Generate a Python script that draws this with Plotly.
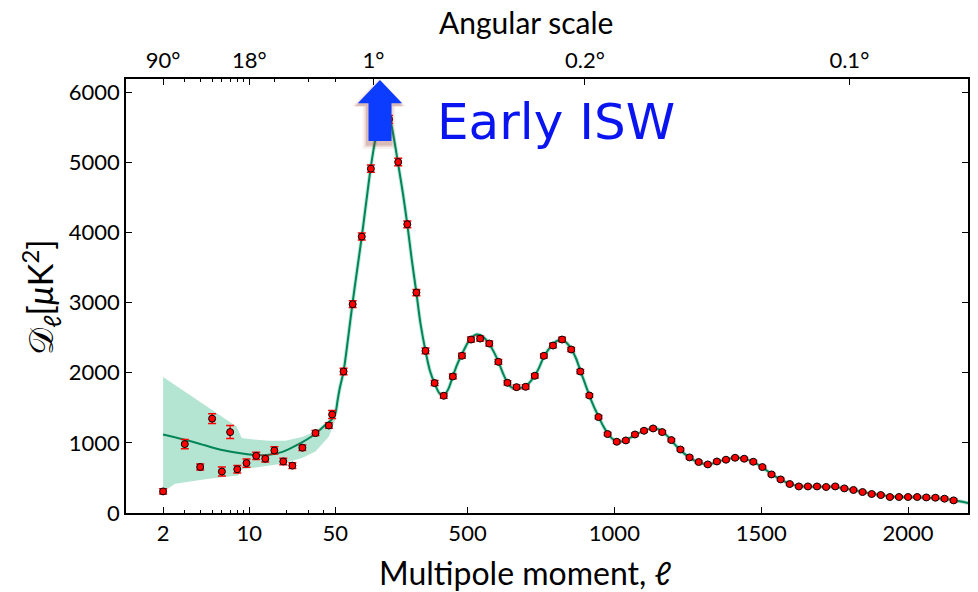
import numpy as np
import plotly.graph_objects as go

# ---------------- data ----------------
# low-multipole estimates (log-scaled part of the axis)
low_ell = [2, 3, 4, 5, 6, 7, 8, 9.5, 11.4, 13.5, 16, 18.9, 22.4, 27, 34.5, 44.3, 47.1]
low_dl = [308, 983, 656, 1346, 591, 1154, 624, 712, 815, 774, 892, 735, 676, 931, 1140, 1248, 1405]
low_err = [38, 66, 43, 71, 64, 93, 52, 59, 52, 47, 52, 47, 40, 38, 36, 40, 57]

# binned high-multipole estimates (linear part of the axis)
high_ell = [78, 109, 140, 171, 202, 233, 264, 295, 326, 357,
            388, 419, 450, 481, 512, 543, 574, 605, 636, 667,
            698, 729, 760, 791, 822, 853, 884, 915, 946, 977,
            1008, 1039, 1070, 1101, 1132, 1163, 1194, 1225, 1256, 1287,
            1318, 1349, 1380, 1411, 1442, 1473, 1504, 1535, 1566, 1597,
            1628, 1659, 1690, 1721, 1752, 1783, 1814, 1845, 1876, 1907,
            1938, 1969, 2000, 2031, 2062, 2093, 2124, 2155]
high_dl = [2018, 2978, 3942, 4911, 5560, 5615, 5006, 4118, 3144, 2313,
           1853, 1672, 1947, 2242, 2474, 2488, 2417, 2156, 1857, 1795,
           1800, 1957, 2242, 2389, 2474, 2332, 2018, 1676, 1368, 1126,
           1016, 1035, 1120, 1173, 1206, 1154, 1040, 906, 793, 727,
           693, 735, 760, 788, 774, 731, 655, 550, 479, 413,
           379, 379, 379, 371, 379, 351, 328, 299, 271, 256,
           228, 228, 228, 228, 222, 218, 204, 180]
high_err = [45, 48, 50, 52, 55, 55, 52, 48, 44, 40,
            36, 34, 34, 35, 36, 36, 35, 33, 31, 30,
            30, 30, 31, 31, 31, 30, 28, 26, 24, 22,
            21, 21, 21, 21, 21, 20, 20, 19, 18, 18,
            18, 18, 18, 18, 18, 17, 17, 16, 16, 16,
            16, 16, 16, 16, 16, 16, 16, 16, 17, 17,
            17, 18, 18, 19, 19, 20, 21, 22]

# best-fit model spectrum
model_ell = [2, 3, 4, 5, 6, 8, 10, 12, 15, 18, 22, 27, 34.5, 40, 47, 50,
             58, 65, 78, 93, 108, 124, 140, 155, 170, 185, 200, 215, 225, 235,
             250, 263, 280, 295, 310, 326, 340, 357, 372, 388, 405, 420, 435,
             450, 465, 481, 497, 512, 530, 545, 560, 574, 590, 605, 620, 636,
             650, 667, 683, 698, 714, 730, 745, 760, 776, 792, 810, 822, 838,
             854, 870, 885, 900, 915, 931, 947, 962, 978, 993, 1009, 1025, 1040,
             1070, 1101, 1130, 1150, 1163, 1180, 1195, 1210, 1225, 1240, 1257,
             1272, 1288, 1305, 1318, 1335, 1349, 1380, 1410, 1430, 1441, 1472,
             1503, 1535, 1566, 1597, 1628, 1659, 1690, 1721, 1752, 1783, 1814,
             1845, 1876, 1907, 1938, 1969, 2000, 2031, 2062, 2093, 2124, 2155,
             2185, 2210]
model_dl = [1120, 1045, 985, 935, 900, 860, 835, 822, 835, 865, 930, 1010, 1130, 1230, 1340, 1420,
            1615, 1780, 2020, 2480, 2975, 3460, 3940, 4430, 4910, 5300, 5590, 5720, 5720, 5640,
            5330, 5000, 4560, 4115, 3620, 3140, 2700, 2310, 2030, 1850, 1705, 1680, 1770,
            1950, 2120, 2265, 2400, 2495, 2545, 2535, 2485, 2410, 2295, 2160, 2000, 1860,
            1790, 1775, 1785, 1810, 1875, 1965, 2085, 2230, 2335, 2415, 2465, 2470, 2425,
            2335, 2200, 2020, 1850, 1675, 1510, 1370, 1240, 1130, 1060, 1025, 1020, 1040,
            1110, 1175, 1205, 1195, 1162, 1100, 1030, 960, 900, 840, 790,
            750, 720, 700, 695, 705, 730, 765, 785, 785, 775, 730,
            655, 555, 480, 415, 383, 376, 376, 373, 372, 352, 327,
            300, 274, 254, 237, 229, 225, 222, 218, 211, 199, 183,
            160, 135]

# cosmic-variance envelope at low multipoles
band_up_ell = [2, 7.9, 8.7, 10, 14.4, 19.7, 26.8, 34.5, 44.3, 50, 53]
band_up_dl = [1938, 1234, 1069, 1055, 1030, 1030, 1083, 1163, 1282, 1430, 1530]
band_lo_ell = [2, 2.5, 4.7, 8.2, 8.4, 11.9, 18.4, 26.8, 34.5, 44.3, 50, 53]
band_lo_dl = [300, 418, 489, 536, 617, 655, 703, 784, 878, 1092, 1330, 1500]

# axis ticks
bottom_ticks = [2, 10, 50, 500, 1000, 1500, 2000]
bottom_minor = [3, 4, 5, 6, 7, 8, 9, 20, 30, 40]
top_ticks = [2, 10, 180, 900, 1800]
top_labels = ["90°", "18°", "1°", "0.2°", "0.1°"]
top_minor = [3, 4, 5, 6, 7, 8, 9, 16, 30, 50]
y_ticks = [0, 1000, 2000, 3000, 4000, 5000, 6000]

# ---------------- hybrid multipole axis ----------------
SPLIT = 50.0          # log below, linear above
ELL_PER_DECADE = 419.5  # linear multipoles occupying one log decade of width


def hx(ell):
    ell = np.asarray(ell, dtype=float)
    return np.where(ell <= SPLIT, np.log10(ell),
                    np.log10(SPLIT) + (ell - SPLIT) / ELL_PER_DECADE)


X_RANGE = [float(hx(1.0)), float(hx(2204))]
Y_RANGE = [0, 6190]

FONT = "Lato"
BAND = "rgb(180,228,210)"
LINE = "rgb(0,133,88)"

fig = go.Figure()

# cosmic variance band
bx = np.concatenate([hx(band_up_ell), hx(band_lo_ell)[::-1]])
by = band_up_dl + band_lo_dl[::-1]
fig.add_trace(go.Scatter(x=bx, y=by, fill="toself", fillcolor=BAND,
                         line=dict(width=0), mode="lines", hoverinfo="skip",
                         showlegend=False))

# narrow envelope along the model and the model itself
fig.add_trace(go.Scatter(x=hx(model_ell), y=model_dl, mode="lines",
                         line=dict(color="rgba(180,228,210,0.8)", width=4,
                                   shape="spline", smoothing=0.8),
                         hoverinfo="skip", showlegend=False))
fig.add_trace(go.Scatter(x=hx(model_ell), y=model_dl, mode="lines",
                         line=dict(color=LINE, width=2, shape="spline", smoothing=0.8),
                         showlegend=False))

# measured points
all_ell = low_ell + high_ell
all_dl = low_dl + high_dl
all_err = low_err + high_err
fig.add_trace(go.Scatter(
    x=hx(all_ell), y=all_dl, mode="markers",
    marker=dict(color="red", size=7, line=dict(color="black", width=1)),
    error_y=dict(type="data", array=all_err, color="red", thickness=1.5, width=4),
    showlegend=False))

# invisible trace that carries the top (angular scale) axis
fig.add_trace(go.Scatter(x=hx(top_ticks), y=[None] * len(top_ticks), xaxis="x2",
                         mode="markers", marker=dict(opacity=0), hoverinfo="skip",
                         showlegend=False))

# ---------------- "Early ISW" arrow ----------------
xc = float(hx(202))
px_u = 1.0 / 123.5              # one pixel in axis units (x)
px_d = 6190 / 434.0             # one pixel in data units (y)
tip, head, foot = 6175, 5843, 5306


def arrow_path(dx=0.0, dy=0.0, grow=0.0):
    hw = (22.2 + grow) * px_u
    sw = (11.5 + grow) * px_u
    ox = dx * px_u
    oy = -dy * px_d
    pts = [(xc + ox, tip + oy + grow * px_d),
           (xc + hw + ox, head + oy),
           (xc + sw + ox, head + oy),
           (xc + sw + ox, foot + oy - grow * px_d),
           (xc - sw + ox, foot + oy - grow * px_d),
           (xc - sw + ox, head + oy),
           (xc - hw + ox, head + oy)]
    return "M " + " L ".join(f"{a},{b}" for a, b in pts) + " Z"


shapes = []
for g, op in [(5, 0.07), (3, 0.12), (1.5, 0.18)]:
    shapes.append(dict(type="path", xref="x", yref="y", path=arrow_path(-1, 3, g),
                       fillcolor=f"rgba(150,50,40,{op})", line=dict(width=0), layer="above"))
shapes.append(dict(type="path", xref="x", yref="y", path=arrow_path(),
                   fillcolor="#0b3cff", line=dict(width=0), layer="above"))

W, H = 978, 592
L, R, T, B = 126, 8, 79, 79
pw, ph = W - L - R, H - T - B


def paper_x(px):
    return (px - L) / pw


def paper_y(py):
    return (H - B - py) / ph


annotations = [
    dict(text="Early ISW", xref="paper", yref="paper", x=paper_x(436), y=paper_y(122),
         xanchor="left", yanchor="middle", showarrow=False,
         font=dict(family="DejaVu Sans", size=50, color="#0a14f0")),
    dict(text="Angular scale", xref="paper", yref="paper", x=paper_x(527), y=paper_y(22),
         xanchor="center", yanchor="middle", showarrow=False,
         font=dict(family=FONT, size=30, color="black")),
    dict(text="Multipole moment, <i>ℓ</i>", xref="paper", yref="paper",
         x=paper_x(526), y=paper_y(572), xanchor="center", yanchor="middle",
         showarrow=False, font=dict(family=FONT, size=32, color="black")),
    dict(text="𝒟<sub>ℓ</sub>[<i>μ</i>K<sup>2</sup>]", xref="paper", yref="paper",
         x=paper_x(40), y=paper_y(297), xanchor="center", yanchor="middle",
         textangle=-90, showarrow=False,
         font=dict(family=FONT, size=34, color="black")),
]

tickfont = dict(family=FONT, size=22, color="black")
fig.update_layout(
    width=W, height=H, margin=dict(l=L, r=R, t=T, b=B),
    paper_bgcolor="white", plot_bgcolor="white",
    shapes=shapes, annotations=annotations,
    xaxis=dict(range=X_RANGE, tickmode="array", tickvals=hx(bottom_ticks),
               ticktext=[str(t) for t in bottom_ticks], ticks="inside", ticklen=6,
               tickwidth=1, tickcolor="black", tickfont=tickfont,
               minor=dict(tickmode="array", tickvals=hx(bottom_minor), ticks="inside",
                          ticklen=3, tickwidth=1, tickcolor="black", showgrid=False),
               showline=True, linecolor="black", linewidth=1.5, mirror=False,
               showgrid=False, zeroline=False),
    xaxis2=dict(range=X_RANGE, overlaying="x", side="top", anchor="y",
                tickmode="array", tickvals=hx(top_ticks), ticktext=top_labels,
                ticks="inside", ticklen=6, tickwidth=1, tickcolor="black",
                tickfont=tickfont,
                minor=dict(tickmode="array", tickvals=hx(top_minor), ticks="inside",
                           ticklen=3, tickwidth=1, tickcolor="black", showgrid=False),
                showline=True, linecolor="black", linewidth=1.5,
                showgrid=False, zeroline=False),
    yaxis=dict(range=Y_RANGE, tickmode="array", tickvals=y_ticks, ticks="inside",
               ticklen=6, tickwidth=1, tickcolor="black", tickfont=tickfont,
               showline=True, linecolor="black", linewidth=1.5, mirror="ticks",
               showgrid=False, zeroline=False),
)

fig.write_html("out.html")
